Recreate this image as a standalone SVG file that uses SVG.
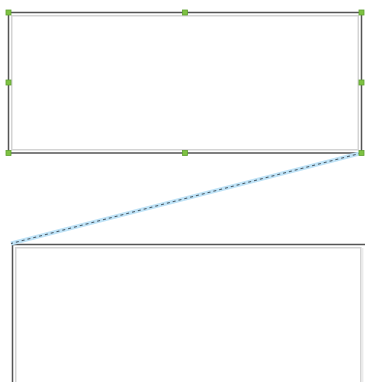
<svg xmlns="http://www.w3.org/2000/svg" width="365" height="382" viewBox="0 0 365 382">
<style>
.outer{fill:#fff;stroke:#555;stroke-width:1.5}
.inner{fill:none;stroke:#d4d4d4;stroke-width:1.5}
.faint{fill:none;stroke:#e4e4e4;stroke-width:1}
.handle{fill:#7ec242;stroke:#5fa030;stroke-width:0.8}
.halo{stroke:#bfe3f7;stroke-width:4;fill:none}
.edge{stroke:#4a5a66;stroke-width:1.2;stroke-dasharray:3 3;fill:none}
</style>
<rect width="365" height="382" fill="#fff"/>
<g id="node-bottom">
<rect class="outer" x="12.5" y="244.5" width="362" height="150"/>
<rect class="inner" x="15.75" y="247.75" width="345" height="140"/>
<line class="faint" x1="362.8" y1="248" x2="362.8" y2="382"/>
</g>
<g id="node-top">
<rect class="outer" x="8.5" y="12.5" width="353" height="140.5"/>
<rect class="inner" x="11.75" y="15.75" width="346.5" height="134"/>
</g>
<g id="connectors">
<line class="halo" x1="361.5" y1="153" x2="11" y2="243.5"/>
<line class="edge" x1="361.5" y1="153" x2="11" y2="243.5"/>
</g>
<g id="handles">
<rect class="handle" x="6" y="10" width="5" height="5"/>
<rect class="handle" x="182.5" y="10" width="5" height="5"/>
<rect class="handle" x="359" y="10" width="5" height="5"/>
<rect class="handle" x="6" y="80" width="5" height="5"/>
<rect class="handle" x="359" y="80" width="5" height="5"/>
<rect class="handle" x="6" y="150.5" width="5" height="5"/>
<rect class="handle" x="182.5" y="150.5" width="5" height="5"/>
<rect class="handle" x="359" y="150.5" width="5" height="5"/>
</g>
</svg>
